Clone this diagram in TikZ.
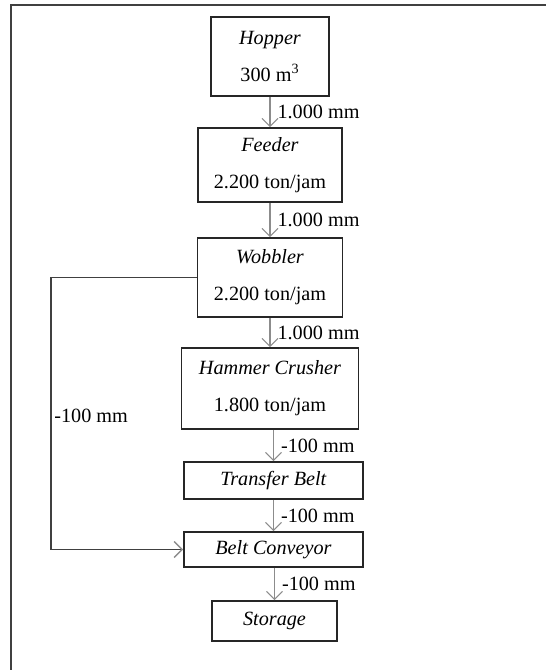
\documentclass[tikz,border=0pt]{standalone}
\usepackage{fontspec}
\setmainfont{Liberation Serif}
\usetikzlibrary{arrows.meta,positioning}

\begin{document}
\begin{tikzpicture}[x=0.02cm, y=-0.02cm,
kotak/.style={draw=black!85, line width=0.9pt, align=center, inner sep=2pt, font=\fontsize{11.5}{21}\selectfont},
panah/.style={draw=black!45, line width=0.6pt, -{Straight Barb[length=1.6mm,width=3.2mm]}},
balik/.style={draw=black!75, line width=0.8pt, -{Straight Barb[length=1.6mm,width=3.2mm,color=black!45]}},
ket/.style={font=\fontsize{11.5}{13}\selectfont, inner sep=4pt}
]
\useasboundingbox (0,0) rectangle (546,670);
\draw[black!75, line width=0.85pt] (11,670) |- (546,5);

\node[kotak, minimum width=2.36cm, minimum height=1.58cm] (hopper) at (270,56.5) {\textit{Hopper}\\300 m\textsuperscript{3}};
\node[kotak, minimum width=2.88cm, minimum height=1.48cm] (feeder) at (270,165) {\textit{Feeder}\\2.200 ton/jam};
\node[kotak, minimum width=2.9cm, minimum height=1.58cm] (wobbler) at (270,277.5) {\textit{Wobbler}\\2.200 ton/jam};
\node[kotak, minimum width=3.54cm, minimum height=1.62cm] (hammer) at (270,388.5) {\textit{Hammer Crusher}\\1.800 ton/jam};
\node[kotak, minimum width=3.58cm, minimum height=0.74cm] (transfer) at (273.5,480.5) {\textit{Transfer Belt}};
\node[kotak, minimum width=3.58cm, minimum height=0.7cm] (belt) at (273.5,549.5) {\textit{Belt Conveyor}};
\node[kotak, minimum width=2.5cm, minimum height=0.8cm] (storage) at (274.5,621) {\textit{Storage}};

\draw[panah] (hopper) -- node[ket, right] {1.000 mm} (feeder);
\draw[panah] (feeder) -- node[ket, right] {1.000 mm} (wobbler);
\draw[panah] (wobbler) -- node[ket, right] {1.000 mm} (hammer);
\draw[panah] (transfer.north |- hammer.south) -- node[ket, right] {-100 mm} (transfer.north);
\draw[panah] (transfer.south) -- node[ket, right] {-100 mm} (belt.north);
\draw[panah] (storage.north |- belt.south) -- node[ket, right] {-100 mm} (storage.north);

% jalur balik dari wobbler
\coordinate (sudut) at (51,400);
\draw[balik] (wobbler.west) -| (sudut) |- (belt.west);
\node[ket, anchor=west, inner sep=0pt] (ketbalik) at (54,416) {-100 mm};
\end{tikzpicture}
\end{document}
